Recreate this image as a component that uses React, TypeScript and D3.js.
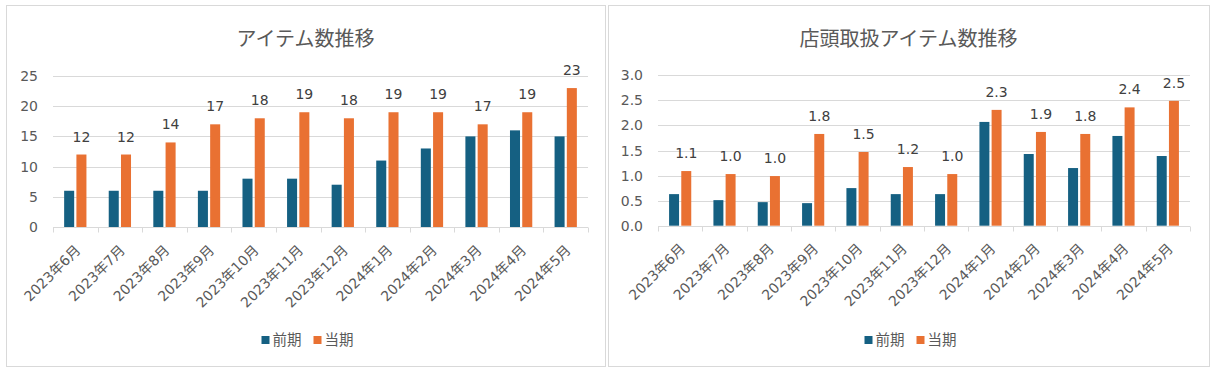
import { useRef, useLayoutEffect } from 'react';
import * as d3 from 'd3';

const months = [
  '2023年6月', '2023年7月', '2023年8月', '2023年9月', '2023年10月', '2023年11月',
  '2023年12月', '2024年1月', '2024年2月', '2024年3月', '2024年4月', '2024年5月',
];
const seriesNames = ['前期', '当期'];

// アイテム数推移
const itemsPrev = [6, 6, 6, 6, 8, 8, 7, 11, 13, 15, 16, 15];
const itemsCurr = [12, 12, 14, 17, 18, 19, 18, 19, 19, 17, 19, 23];

// 店頭取扱アイテム数推移
const storePrev = [0.63, 0.51, 0.47, 0.45, 0.75, 0.63, 0.63, 2.07, 1.43, 1.15, 1.79, 1.39];
const storeCurr = [1.09, 1.03, 0.99, 1.83, 1.47, 1.17, 1.03, 2.31, 1.87, 1.83, 2.36, 2.49];

const colors = ['#156082', '#E97132'];
const FONT = '"DejaVu Sans", "Noto Sans CJK JP", sans-serif';
const CJK = '"Noto Sans CJK JP", sans-serif';
const textColor = '#595959';
const gridColor = '#d9d9d9';

type Props = {
  title: string;
  prev: number[];
  curr: number[];
  yMax: number;
  yStep: number;
  fmt: (v: number) => string;
  box: { x: number; y: number; w: number; h: number };
  plot: { left: number; right: number; top: number; bottom: number };
};

const BarChart = ({ title, prev, curr, yMax, yStep, fmt, box, plot }: Props) => {
  const ref = useRef<SVGGElement>(null);

  useLayoutEffect(() => {
    const g = d3.select(ref.current);
    g.selectAll('*').remove();

    g.append('rect')
      .attr('x', box.x + 0.5)
      .attr('y', box.y + 0.5)
      .attr('width', box.w)
      .attr('height', box.h)
      .attr('fill', '#fff')
      .attr('stroke', gridColor);

    const x = d3.scaleBand<string>().domain(months).range([plot.left, plot.right]).padding(0);
    const y = d3.scaleLinear().domain([0, yMax]).range([plot.bottom, plot.top]);
    const bw = x.bandwidth();
    const barW = bw * 0.225;
    const gap = bw * 0.05;
    const x1 = d3
      .scaleOrdinal<number, number>()
      .domain([0, 1])
      .range([bw / 2 - gap / 2 - barW, bw / 2 + gap / 2]);

    // title
    g.append('text')
      .attr('x', box.x + box.w / 2)
      .attr('y', box.y + 41)
      .attr('text-anchor', 'middle')
      .attr('font-family', CJK)
      .attr('font-size', 20)
      .attr('fill', textColor)
      .text(title);

    // grid + y labels
    const ticks = d3.range(0, yMax + yStep / 2, yStep);
    g.append('g')
      .selectAll('line')
      .data(ticks)
      .join('line')
      .attr('x1', plot.left)
      .attr('x2', plot.right)
      .attr('y1', (d) => Math.round(y(d)) + 0.5)
      .attr('y2', (d) => Math.round(y(d)) + 0.5)
      .attr('stroke', gridColor);

    g.append('g')
      .selectAll('text')
      .data(ticks)
      .join('text')
      .attr('x', plot.left - 15)
      .attr('y', (d) => y(d))
      .attr('dy', '0.36em')
      .attr('text-anchor', 'end')
      .attr('font-size', 14)
      .attr('fill', textColor)
      .text((d) => fmt(d));

    // category tick marks
    const edges = months.map((m) => x(m)!).concat([plot.right]);
    g.append('g')
      .selectAll('line')
      .data(edges)
      .join('line')
      .attr('x1', (d) => Math.round(d) + 0.5)
      .attr('x2', (d) => Math.round(d) + 0.5)
      .attr('y1', Math.round(y(0)) + 0.5)
      .attr('y2', Math.round(y(0)) + 5.5)
      .attr('stroke', gridColor);

    // bars
    const rows = months.map((m, i) => ({ m, vals: [prev[i], curr[i]] }));
    const grp = g
      .append('g')
      .selectAll('g')
      .data(rows)
      .join('g')
      .attr('transform', (d) => `translate(${x(d.m)},0)`);

    grp
      .selectAll('rect')
      .data((d) => d.vals.map((v, k) => ({ v, k })))
      .join('rect')
      .attr('x', (d) => x1(d.k))
      .attr('y', (d) => y(d.v))
      .attr('width', barW)
      .attr('height', (d) => y(0) - y(d.v))
      .attr('fill', (d) => colors[d.k]);

    // data labels on 当期
    grp
      .append('text')
      .attr('x', x1(1) + barW / 2)
      .attr('y', (d) => y(d.vals[1]) - 13)
      .attr('text-anchor', 'middle')
      .attr('font-size', 14)
      .attr('fill', '#404040')
      .text((d) => fmt(d.vals[1]));

    // x labels
    g.append('g')
      .selectAll('text')
      .data(months)
      .join('text')
      .attr('text-anchor', 'end')
      .attr('font-size', 14)
      .attr('fill', textColor)
      .attr(
        'transform',
        (d) => `translate(${x(d)! + bw / 2 + 6},${y(0) + 24}) rotate(-45)`
      )
      .text((d) => d);

    // legend
    const lg = g.append('g');
    const items = lg
      .selectAll('g')
      .data(seriesNames)
      .join('g')
      .attr('transform', (_, i) => `translate(${i * 52},0)`);
    items
      .append('rect')
      .attr('x', 0)
      .attr('y', -8)
      .attr('width', 8)
      .attr('height', 8)
      .attr('fill', (_, i) => colors[i]);
    items
      .append('text')
      .attr('x', 11)
      .attr('y', 0)
      .attr('dy', '0.05em')
      .attr('font-family', CJK)
      .attr('font-size', 14.5)
      .attr('fill', textColor)
      .text((d) => d);
    const legendW = 52 + 11 + 29;
    lg.attr('transform', `translate(${box.x + box.w / 2 - legendW / 2 + 2},${box.y + 339})`);
  }, []);

  return <g ref={ref} fontFamily={FONT}></g>;
};

export default function App() {
  return (
    <div style={{ position: 'absolute', left: 0, top: 0 }}>
      <svg width={1215} height={370} viewBox="0 0 1215 370" style={{ display: 'block', background: '#fff' }}>
        <BarChart
          title="アイテム数推移"
          prev={itemsPrev}
          curr={itemsCurr}
          yMax={25}
          yStep={5}
          fmt={(v) => d3.format('d')(v)}
          box={{ x: 6, y: 5, w: 599, h: 361 }}
          plot={{ left: 53, right: 588, top: 76, bottom: 227 }}
        />
        <BarChart
          title="店頭取扱アイテム数推移"
          prev={storePrev}
          curr={storeCurr}
          yMax={3}
          yStep={0.5}
          fmt={(v) => d3.format('.1f')(v)}
          box={{ x: 608, y: 5, w: 601, h: 361 }}
          plot={{ left: 658, right: 1190, top: 75.3, bottom: 225.7 }}
        />
      </svg>
    </div>
  );
}
